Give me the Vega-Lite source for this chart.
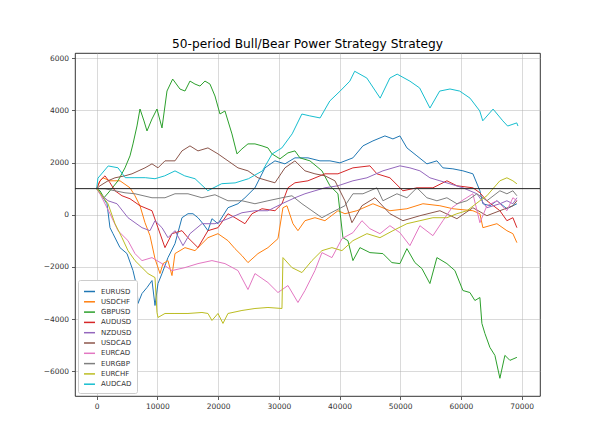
{
  "$schema": "https://vega.github.io/schema/vega-lite/v6.json",
  "width": 465,
  "height": 343,
  "autosize": {"type": "none"},
  "padding": {"left": 75, "top": 53, "right": 60, "bottom": 48},
  "background": "white",
  "title": {"text": "50-period Bull/Bear Power Strategy Strategy", "font": "DejaVu Sans", "fontSize": 12.2, "fontWeight": "normal", "color": "#000", "anchor": "middle", "offset": 3},
  "config": {
    "view": {"stroke": "#000", "strokeWidth": 0.8},
    "axis": {"labelFont": "DejaVu Sans", "labelFontSize": 7.5, "labelColor": "#333", "tickColor": "#333", "tickSize": 3.5, "tickWidth": 0.8, "domain": false, "grid": true, "gridColor": "#b0b0b0", "gridWidth": 0.8, "gridOpacity": 0.6, "title": null, "labelPadding": 3}
  },
  "datasets": {
    "series": [
      {"s":"EURUSD","x":0,"y":1000},{"s":"EURUSD","x":543,"y":841},{"s":"EURUSD","x":1696,"y":421},{"s":"EURUSD","x":2190,"y":-497},{"s":"EURUSD","x":2685,"y":-727},{"s":"EURUSD","x":3838,"y":-1262},{"s":"EURUSD","x":4991,"y":-1491},{"s":"EURUSD","x":5979,"y":-2141},{"s":"EURUSD","x":6637,"y":-2792},{"s":"EURUSD","x":6802,"y":-3403},{"s":"EURUSD","x":7461,"y":-3021},{"s":"EURUSD","x":8284,"y":-2792},{"s":"EURUSD","x":9108,"y":-2524},{"s":"EURUSD","x":9602,"y":-3480},{"s":"EURUSD","x":10096,"y":-2639},{"s":"EURUSD","x":10755,"y":-2256},{"s":"EURUSD","x":11743,"y":-1644},{"s":"EURUSD","x":12896,"y":-1109},{"s":"EURUSD","x":14049,"y":-115},{"s":"EURUSD","x":15037,"y":38},{"s":"EURUSD","x":15860,"y":38},{"s":"EURUSD","x":16684,"y":-115},{"s":"EURUSD","x":17507,"y":-344},{"s":"EURUSD","x":18330,"y":-612},{"s":"EURUSD","x":18989,"y":-153},{"s":"EURUSD","x":19977,"y":-344},{"s":"EURUSD","x":21624,"y":268},{"s":"EURUSD","x":23271,"y":421},{"s":"EURUSD","x":24425,"y":650},{"s":"EURUSD","x":26072,"y":1032},{"s":"EURUSD","x":27719,"y":1797},{"s":"EURUSD","x":29366,"y":2065},{"s":"EURUSD","x":31013,"y":1950},{"s":"EURUSD","x":32660,"y":2180},{"s":"EURUSD","x":34801,"y":2180},{"s":"EURUSD","x":36777,"y":2065},{"s":"EURUSD","x":38424,"y":2065},{"s":"EURUSD","x":40071,"y":1988},{"s":"EURUSD","x":42212,"y":2180},{"s":"EURUSD","x":43859,"y":2639},{"s":"EURUSD","x":45506,"y":2830},{"s":"EURUSD","x":47483,"y":3021},{"s":"EURUSD","x":48801,"y":2906},{"s":"EURUSD","x":49953,"y":3021},{"s":"EURUSD","x":51106,"y":2562},{"s":"EURUSD","x":52753,"y":2256},{"s":"EURUSD","x":54400,"y":1950},{"s":"EURUSD","x":56047,"y":2065},{"s":"EURUSD","x":57035,"y":1797},{"s":"EURUSD","x":58682,"y":1759},{"s":"EURUSD","x":60329,"y":1683},{"s":"EURUSD","x":61976,"y":1568},{"s":"EURUSD","x":63129,"y":918},{"s":"EURUSD","x":63623,"y":421},{"s":"EURUSD","x":64776,"y":344},{"s":"EURUSD","x":65929,"y":535},{"s":"EURUSD","x":67576,"y":229},{"s":"EURUSD","x":68564,"y":344},{"s":"EURUSD","x":69223,"y":421},

      {"s":"USDCHF","x":0,"y":1000},{"s":"USDCHF","x":543,"y":1300},{"s":"USDCHF","x":1038,"y":1415},{"s":"USDCHF","x":2190,"y":1300},{"s":"USDCHF","x":3838,"y":1300},{"s":"USDCHF","x":5485,"y":1032},{"s":"USDCHF","x":6308,"y":727},{"s":"USDCHF","x":7132,"y":344},{"s":"USDCHF","x":7955,"y":-306},{"s":"USDCHF","x":8779,"y":-803},{"s":"USDCHF","x":9602,"y":-1683},{"s":"USDCHF","x":10426,"y":-2256},{"s":"USDCHF","x":10920,"y":-1874},{"s":"USDCHF","x":11743,"y":-1759},{"s":"USDCHF","x":12402,"y":-2333},{"s":"USDCHF","x":12896,"y":-1491},{"s":"USDCHF","x":14543,"y":-1262},{"s":"USDCHF","x":16190,"y":-1377},{"s":"USDCHF","x":18330,"y":-880},{"s":"USDCHF","x":19977,"y":-727},{"s":"USDCHF","x":21624,"y":-994},{"s":"USDCHF","x":22778,"y":-1300},{"s":"USDCHF","x":23931,"y":-1568},{"s":"USDCHF","x":24919,"y":-1836},{"s":"USDCHF","x":26566,"y":-1491},{"s":"USDCHF","x":28213,"y":-1262},{"s":"USDCHF","x":29860,"y":-918},{"s":"USDCHF","x":30683,"y":268},{"s":"USDCHF","x":31342,"y":344},{"s":"USDCHF","x":32330,"y":-344},{"s":"USDCHF","x":33154,"y":-612},{"s":"USDCHF","x":34307,"y":-229},{"s":"USDCHF","x":35954,"y":-115},{"s":"USDCHF","x":37601,"y":-229},{"s":"USDCHF","x":39742,"y":153},{"s":"USDCHF","x":40895,"y":38},{"s":"USDCHF","x":42871,"y":153},{"s":"USDCHF","x":45506,"y":421},{"s":"USDCHF","x":48306,"y":153},{"s":"USDCHF","x":51106,"y":229},{"s":"USDCHF","x":53741,"y":421},{"s":"USDCHF","x":56541,"y":344},{"s":"USDCHF","x":58682,"y":229},{"s":"USDCHF","x":61976,"y":153},{"s":"USDCHF","x":63129,"y":38},{"s":"USDCHF","x":63623,"y":-497},{"s":"USDCHF","x":65929,"y":-344},{"s":"USDCHF","x":67576,"y":-612},{"s":"USDCHF","x":68564,"y":-727},{"s":"USDCHF","x":69223,"y":-1071},

      {"s":"GBPUSD","x":0,"y":994},{"s":"GBPUSD","x":543,"y":918},{"s":"GBPUSD","x":1202,"y":650},{"s":"GBPUSD","x":2190,"y":918},{"s":"GBPUSD","x":3508,"y":1300},{"s":"GBPUSD","x":4661,"y":1797},{"s":"GBPUSD","x":5485,"y":2256},{"s":"GBPUSD","x":5979,"y":2715},{"s":"GBPUSD","x":6637,"y":3403},{"s":"GBPUSD","x":7132,"y":4053},{"s":"GBPUSD","x":7790,"y":3595},{"s":"GBPUSD","x":8284,"y":3212},{"s":"GBPUSD","x":9108,"y":3671},{"s":"GBPUSD","x":9932,"y":4053},{"s":"GBPUSD","x":10755,"y":3327},{"s":"GBPUSD","x":11579,"y":4742},{"s":"GBPUSD","x":12517,"y":5201},{"s":"GBPUSD","x":13720,"y":4818},{"s":"GBPUSD","x":14543,"y":4742},{"s":"GBPUSD","x":15366,"y":5124},{"s":"GBPUSD","x":16190,"y":5009},{"s":"GBPUSD","x":17013,"y":4933},{"s":"GBPUSD","x":17837,"y":5124},{"s":"GBPUSD","x":18660,"y":5009},{"s":"GBPUSD","x":19484,"y":4551},{"s":"GBPUSD","x":20307,"y":3862},{"s":"GBPUSD","x":21131,"y":3977},{"s":"GBPUSD","x":22284,"y":3097},{"s":"GBPUSD","x":23107,"y":2333},{"s":"GBPUSD","x":23931,"y":2524},{"s":"GBPUSD","x":24919,"y":2715},{"s":"GBPUSD","x":26072,"y":2715},{"s":"GBPUSD","x":27225,"y":2639},{"s":"GBPUSD","x":28213,"y":2562},{"s":"GBPUSD","x":28872,"y":2333},{"s":"GBPUSD","x":30189,"y":2141},{"s":"GBPUSD","x":31507,"y":2371},{"s":"GBPUSD","x":32660,"y":2447},{"s":"GBPUSD","x":33483,"y":2180},{"s":"GBPUSD","x":35130,"y":2065},{"s":"GBPUSD","x":37107,"y":1683},{"s":"GBPUSD","x":38424,"y":1109},{"s":"GBPUSD","x":39742,"y":803},{"s":"GBPUSD","x":40565,"y":-880},{"s":"GBPUSD","x":41389,"y":-994},{"s":"GBPUSD","x":42212,"y":-1759},{"s":"GBPUSD","x":43365,"y":-1262},{"s":"GBPUSD","x":45012,"y":-1453},{"s":"GBPUSD","x":47153,"y":-1491},{"s":"GBPUSD","x":48636,"y":-1836},{"s":"GBPUSD","x":49953,"y":-1874},{"s":"GBPUSD","x":51106,"y":-1300},{"s":"GBPUSD","x":52424,"y":-1836},{"s":"GBPUSD","x":53577,"y":-2065},{"s":"GBPUSD","x":54894,"y":-2639},{"s":"GBPUSD","x":56047,"y":-1644},{"s":"GBPUSD","x":57694,"y":-1874},{"s":"GBPUSD","x":59012,"y":-2141},{"s":"GBPUSD","x":60329,"y":-2906},{"s":"GBPUSD","x":61482,"y":-2983},{"s":"GBPUSD","x":62306,"y":-3289},{"s":"GBPUSD","x":63129,"y":-3174},{"s":"GBPUSD","x":63459,"y":-4168},{"s":"GBPUSD","x":63953,"y":-4551},{"s":"GBPUSD","x":64776,"y":-5086},{"s":"GBPUSD","x":65600,"y":-5392},{"s":"GBPUSD","x":66423,"y":-6271},{"s":"GBPUSD","x":67247,"y":-5392},{"s":"GBPUSD","x":68070,"y":-5583},{"s":"GBPUSD","x":69223,"y":-5468},

      {"s":"AUDUSD","x":0,"y":1000},{"s":"AUDUSD","x":543,"y":1300},{"s":"AUDUSD","x":1367,"y":1491},{"s":"AUDUSD","x":2190,"y":1224},{"s":"AUDUSD","x":3014,"y":918},{"s":"AUDUSD","x":4167,"y":727},{"s":"AUDUSD","x":5485,"y":612},{"s":"AUDUSD","x":7132,"y":344},{"s":"AUDUSD","x":9108,"y":153},{"s":"AUDUSD","x":10096,"y":-497},{"s":"AUDUSD","x":11249,"y":-1262},{"s":"AUDUSD","x":12402,"y":-727},{"s":"AUDUSD","x":14049,"y":-612},{"s":"AUDUSD","x":15037,"y":-880},{"s":"AUDUSD","x":16684,"y":-1262},{"s":"AUDUSD","x":18330,"y":-612},{"s":"AUDUSD","x":19977,"y":-497},{"s":"AUDUSD","x":21624,"y":38},{"s":"AUDUSD","x":22778,"y":-115},{"s":"AUDUSD","x":24425,"y":-344},{"s":"AUDUSD","x":25578,"y":38},{"s":"AUDUSD","x":27225,"y":229},{"s":"AUDUSD","x":29366,"y":153},{"s":"AUDUSD","x":30519,"y":421},{"s":"AUDUSD","x":31507,"y":1032},{"s":"AUDUSD","x":32660,"y":1224},{"s":"AUDUSD","x":34801,"y":1300},{"s":"AUDUSD","x":37601,"y":1568},{"s":"AUDUSD","x":39742,"y":1568},{"s":"AUDUSD","x":42212,"y":1797},{"s":"AUDUSD","x":45012,"y":1874},{"s":"AUDUSD","x":46165,"y":1568},{"s":"AUDUSD","x":48306,"y":1415},{"s":"AUDUSD","x":50447,"y":918},{"s":"AUDUSD","x":52753,"y":1032},{"s":"AUDUSD","x":55388,"y":1032},{"s":"AUDUSD","x":57694,"y":1300},{"s":"AUDUSD","x":59341,"y":1109},{"s":"AUDUSD","x":61976,"y":1032},{"s":"AUDUSD","x":63129,"y":841},{"s":"AUDUSD","x":64282,"y":535},{"s":"AUDUSD","x":66423,"y":153},{"s":"AUDUSD","x":67576,"y":-229},{"s":"AUDUSD","x":68564,"y":-115},{"s":"AUDUSD","x":69223,"y":-497},

      {"s":"NZDUSD","x":0,"y":1000},{"s":"NZDUSD","x":543,"y":803},{"s":"NZDUSD","x":1861,"y":535},{"s":"NZDUSD","x":3343,"y":421},{"s":"NZDUSD","x":5155,"y":-115},{"s":"NZDUSD","x":7461,"y":-497},{"s":"NZDUSD","x":8779,"y":-612},{"s":"NZDUSD","x":9602,"y":-229},{"s":"NZDUSD","x":10755,"y":-497},{"s":"NZDUSD","x":11743,"y":-880},{"s":"NZDUSD","x":12896,"y":-612},{"s":"NZDUSD","x":14214,"y":-1185},{"s":"NZDUSD","x":15366,"y":-727},{"s":"NZDUSD","x":17342,"y":-344},{"s":"NZDUSD","x":19484,"y":-344},{"s":"NZDUSD","x":21624,"y":-153},{"s":"NZDUSD","x":23931,"y":76},{"s":"NZDUSD","x":26072,"y":153},{"s":"NZDUSD","x":28213,"y":153},{"s":"NZDUSD","x":30519,"y":421},{"s":"NZDUSD","x":32660,"y":650},{"s":"NZDUSD","x":34307,"y":803},{"s":"NZDUSD","x":35954,"y":918},{"s":"NZDUSD","x":37601,"y":1032},{"s":"NZDUSD","x":39742,"y":1109},{"s":"NZDUSD","x":42212,"y":1300},{"s":"NZDUSD","x":44518,"y":1415},{"s":"NZDUSD","x":47153,"y":1683},{"s":"NZDUSD","x":49953,"y":1874},{"s":"NZDUSD","x":51600,"y":1797},{"s":"NZDUSD","x":53247,"y":1683},{"s":"NZDUSD","x":54894,"y":1415},{"s":"NZDUSD","x":56541,"y":1300},{"s":"NZDUSD","x":58188,"y":1185},{"s":"NZDUSD","x":60329,"y":1032},{"s":"NZDUSD","x":62635,"y":803},{"s":"NZDUSD","x":64282,"y":268},{"s":"NZDUSD","x":66423,"y":421},{"s":"NZDUSD","x":67576,"y":535},{"s":"NZDUSD","x":68564,"y":421},{"s":"NZDUSD","x":69223,"y":650},

      {"s":"USDCAD","x":0,"y":1000},{"s":"USDCAD","x":543,"y":1109},{"s":"USDCAD","x":1861,"y":1300},{"s":"USDCAD","x":3014,"y":1415},{"s":"USDCAD","x":4661,"y":1491},{"s":"USDCAD","x":5815,"y":1568},{"s":"USDCAD","x":7955,"y":1797},{"s":"USDCAD","x":9108,"y":1950},{"s":"USDCAD","x":10096,"y":1797},{"s":"USDCAD","x":11249,"y":2065},{"s":"USDCAD","x":12896,"y":2065},{"s":"USDCAD","x":14049,"y":2447},{"s":"USDCAD","x":15366,"y":2639},{"s":"USDCAD","x":16684,"y":2447},{"s":"USDCAD","x":18330,"y":2562},{"s":"USDCAD","x":19977,"y":2333},{"s":"USDCAD","x":21624,"y":2065},{"s":"USDCAD","x":23271,"y":1797},{"s":"USDCAD","x":24919,"y":1683},{"s":"USDCAD","x":26566,"y":1415},{"s":"USDCAD","x":28213,"y":1300},{"s":"USDCAD","x":29366,"y":1224},{"s":"USDCAD","x":31013,"y":1797},{"s":"USDCAD","x":32660,"y":2065},{"s":"USDCAD","x":34307,"y":1683},{"s":"USDCAD","x":35954,"y":1568},{"s":"USDCAD","x":37601,"y":1491},{"s":"USDCAD","x":39248,"y":1300},{"s":"USDCAD","x":40895,"y":535},{"s":"USDCAD","x":42047,"y":-306},{"s":"USDCAD","x":43694,"y":344},{"s":"USDCAD","x":45836,"y":650},{"s":"USDCAD","x":48306,"y":38},{"s":"USDCAD","x":50447,"y":-229},{"s":"USDCAD","x":53247,"y":-38},{"s":"USDCAD","x":56541,"y":153},{"s":"USDCAD","x":59341,"y":-153},{"s":"USDCAD","x":61976,"y":268},{"s":"USDCAD","x":64282,"y":-38},{"s":"USDCAD","x":66423,"y":153},{"s":"USDCAD","x":68564,"y":344},{"s":"USDCAD","x":69223,"y":535},

      {"s":"EURCAD","x":0,"y":1000},{"s":"EURCAD","x":543,"y":803},{"s":"EURCAD","x":2190,"y":38},{"s":"EURCAD","x":3508,"y":-612},{"s":"EURCAD","x":5155,"y":-994},{"s":"EURCAD","x":6308,"y":-1491},{"s":"EURCAD","x":7461,"y":-1759},{"s":"EURCAD","x":9108,"y":-1644},{"s":"EURCAD","x":10755,"y":-1874},{"s":"EURCAD","x":12402,"y":-2141},{"s":"EURCAD","x":14543,"y":-2027},{"s":"EURCAD","x":16684,"y":-1874},{"s":"EURCAD","x":18989,"y":-1759},{"s":"EURCAD","x":21131,"y":-1874},{"s":"EURCAD","x":23271,"y":-2141},{"s":"EURCAD","x":24919,"y":-2868},{"s":"EURCAD","x":26072,"y":-2256},{"s":"EURCAD","x":28213,"y":-2600},{"s":"EURCAD","x":29860,"y":-2983},{"s":"EURCAD","x":31507,"y":-2715},{"s":"EURCAD","x":33154,"y":-3365},{"s":"EURCAD","x":34307,"y":-2906},{"s":"EURCAD","x":35954,"y":-2141},{"s":"EURCAD","x":37107,"y":-1453},{"s":"EURCAD","x":38754,"y":-1644},{"s":"EURCAD","x":40401,"y":-918},{"s":"EURCAD","x":42212,"y":-688},{"s":"EURCAD","x":43694,"y":-229},{"s":"EURCAD","x":45012,"y":-535},{"s":"EURCAD","x":46659,"y":-727},{"s":"EURCAD","x":48306,"y":-421},{"s":"EURCAD","x":49953,"y":-688},{"s":"EURCAD","x":51600,"y":-1185},{"s":"EURCAD","x":53247,"y":-421},{"s":"EURCAD","x":55388,"y":-803},{"s":"EURCAD","x":57035,"y":-229},{"s":"EURCAD","x":58517,"y":268},{"s":"EURCAD","x":60164,"y":535},{"s":"EURCAD","x":61976,"y":803},{"s":"EURCAD","x":63129,"y":-306},{"s":"EURCAD","x":64282,"y":344},{"s":"EURCAD","x":65929,"y":535},{"s":"EURCAD","x":67576,"y":153},{"s":"EURCAD","x":68564,"y":650},{"s":"EURCAD","x":69223,"y":535},

      {"s":"EURGBP","x":0,"y":1000},{"s":"EURGBP","x":1367,"y":994},{"s":"EURGBP","x":3014,"y":918},{"s":"EURGBP","x":4661,"y":841},{"s":"EURGBP","x":6308,"y":803},{"s":"EURGBP","x":9108,"y":650},{"s":"EURGBP","x":11249,"y":650},{"s":"EURGBP","x":12896,"y":803},{"s":"EURGBP","x":15037,"y":803},{"s":"EURGBP","x":17342,"y":650},{"s":"EURGBP","x":19484,"y":765},{"s":"EURGBP","x":21624,"y":535},{"s":"EURGBP","x":23931,"y":535},{"s":"EURGBP","x":26072,"y":421},{"s":"EURGBP","x":28213,"y":535},{"s":"EURGBP","x":30519,"y":650},{"s":"EURGBP","x":32166,"y":727},{"s":"EURGBP","x":33813,"y":421},{"s":"EURGBP","x":35460,"y":153},{"s":"EURGBP","x":37107,"y":-115},{"s":"EURGBP","x":39248,"y":153},{"s":"EURGBP","x":40895,"y":344},{"s":"EURGBP","x":42212,"y":803},{"s":"EURGBP","x":43859,"y":803},{"s":"EURGBP","x":46165,"y":1032},{"s":"EURGBP","x":47153,"y":535},{"s":"EURGBP","x":49459,"y":803},{"s":"EURGBP","x":51106,"y":650},{"s":"EURGBP","x":52753,"y":1032},{"s":"EURGBP","x":54400,"y":650},{"s":"EURGBP","x":56047,"y":535},{"s":"EURGBP","x":57694,"y":650},{"s":"EURGBP","x":59341,"y":421},{"s":"EURGBP","x":60988,"y":535},{"s":"EURGBP","x":62635,"y":803},{"s":"EURGBP","x":64282,"y":535},{"s":"EURGBP","x":66423,"y":918},{"s":"EURGBP","x":67576,"y":803},{"s":"EURGBP","x":68564,"y":918},{"s":"EURGBP","x":69223,"y":727},

      {"s":"EURCHF","x":0,"y":1000},{"s":"EURCHF","x":543,"y":841},{"s":"EURCHF","x":1861,"y":421},{"s":"EURCHF","x":3014,"y":-344},{"s":"EURCHF","x":4167,"y":-880},{"s":"EURCHF","x":5155,"y":-1377},{"s":"EURCHF","x":6308,"y":-1759},{"s":"EURCHF","x":7461,"y":-2027},{"s":"EURCHF","x":8449,"y":-2256},{"s":"EURCHF","x":9602,"y":-2409},{"s":"EURCHF","x":9932,"y":-3748},{"s":"EURCHF","x":10096,"y":-3939},{"s":"EURCHF","x":11249,"y":-3786},{"s":"EURCHF","x":12896,"y":-3786},{"s":"EURCHF","x":15037,"y":-3786},{"s":"EURCHF","x":17342,"y":-3748},{"s":"EURCHF","x":18330,"y":-3786},{"s":"EURCHF","x":18989,"y":-4054},{"s":"EURCHF","x":19977,"y":-3786},{"s":"EURCHF","x":20801,"y":-4168},{"s":"EURCHF","x":21624,"y":-3786},{"s":"EURCHF","x":23931,"y":-3671},{"s":"EURCHF","x":26072,"y":-3595},{"s":"EURCHF","x":28213,"y":-3556},{"s":"EURCHF","x":30519,"y":-3595},{"s":"EURCHF","x":30683,"y":-1644},{"s":"EURCHF","x":32166,"y":-2027},{"s":"EURCHF","x":33813,"y":-2218},{"s":"EURCHF","x":35460,"y":-1759},{"s":"EURCHF","x":37107,"y":-1377},{"s":"EURCHF","x":38754,"y":-1262},{"s":"EURCHF","x":40401,"y":-1377},{"s":"EURCHF","x":42212,"y":-994},{"s":"EURCHF","x":44518,"y":-727},{"s":"EURCHF","x":46659,"y":-880},{"s":"EURCHF","x":48801,"y":-612},{"s":"EURCHF","x":51106,"y":-344},{"s":"EURCHF","x":53247,"y":-229},{"s":"EURCHF","x":55388,"y":-115},{"s":"EURCHF","x":57694,"y":-115},{"s":"EURCHF","x":59341,"y":38},{"s":"EURCHF","x":60988,"y":153},{"s":"EURCHF","x":63129,"y":535},{"s":"EURCHF","x":64282,"y":727},{"s":"EURCHF","x":65270,"y":994},{"s":"EURCHF","x":66423,"y":1300},{"s":"EURCHF","x":67576,"y":1415},{"s":"EURCHF","x":68564,"y":1300},{"s":"EURCHF","x":69223,"y":1185},

      {"s":"AUDCAD","x":0,"y":1000},{"s":"AUDCAD","x":200,"y":1400},{"s":"AUDCAD","x":1900,"y":1870},{"s":"AUDCAD","x":3500,"y":1800},{"s":"AUDCAD","x":4700,"y":1420},{"s":"AUDCAD","x":6300,"y":1420},{"s":"AUDCAD","x":8000,"y":1420},{"s":"AUDCAD","x":9600,"y":1380},{"s":"AUDCAD","x":11200,"y":1490},{"s":"AUDCAD","x":12900,"y":1680},{"s":"AUDCAD","x":14500,"y":1490},{"s":"AUDCAD","x":16200,"y":1380},{"s":"AUDCAD","x":18300,"y":920},{"s":"AUDCAD","x":20600,"y":1190},{"s":"AUDCAD","x":22800,"y":1220},{"s":"AUDCAD","x":25000,"y":1380},{"s":"AUDCAD","x":27300,"y":1680},{"s":"AUDCAD","x":28900,"y":2330},{"s":"AUDCAD","x":30500,"y":2560},{"s":"AUDCAD","x":32200,"y":3100},{"s":"AUDCAD","x":33800,"y":3860},{"s":"AUDCAD","x":35100,"y":3790},{"s":"AUDCAD","x":36800,"y":3710},{"s":"AUDCAD","x":38400,"y":4360},{"s":"AUDCAD","x":40100,"y":4740},{"s":"AUDCAD","x":41700,"y":5120},{"s":"AUDCAD","x":42500,"y":5500},{"s":"AUDCAD","x":44500,"y":5240},{"s":"AUDCAD","x":46700,"y":4470},{"s":"AUDCAD","x":48300,"y":5240},{"s":"AUDCAD","x":49500,"y":5390},{"s":"AUDCAD","x":51600,"y":5120},{"s":"AUDCAD","x":53200,"y":4860},{"s":"AUDCAD","x":54900,"y":4090},{"s":"AUDCAD","x":56500,"y":4740},{"s":"AUDCAD","x":58200,"y":4820},{"s":"AUDCAD","x":59800,"y":4740},{"s":"AUDCAD","x":61500,"y":4470},{"s":"AUDCAD","x":63100,"y":3980},{"s":"AUDCAD","x":63600,"y":3600},{"s":"AUDCAD","x":65300,"y":4050},{"s":"AUDCAD","x":66900,"y":3600},{"s":"AUDCAD","x":67700,"y":3400},{"s":"AUDCAD","x":69200,"y":3520},{"s":"AUDCAD","x":69400,"y":3400}
    ],
    "ref": [{"y": 1000}]
  },
  "layer": [
    {
      "data": {"name": "series"},
      "mark": {"type": "line", "strokeWidth": 1, "clip": true},
      "encoding": {
        "x": {"field": "x", "type": "quantitative", "scale": {"domain": [-3575, 73030], "nice": false, "zero": false}, "axis": {"values": [0, 10000, 20000, 30000, 40000, 50000, 60000, 70000], "format": "d"}},
        "y": {"field": "y", "type": "quantitative", "scale": {"domain": [-6950, 6200], "nice": false, "zero": false}, "axis": {"values": [-6000, -4000, -2000, 0, 2000, 4000, 6000], "format": "d"}},
        "color": {"field": "s", "type": "nominal",
          "scale": {"domain": ["EURUSD","USDCHF","GBPUSD","AUDUSD","NZDUSD","USDCAD","EURCAD","EURGBP","EURCHF","AUDCAD"], "range": ["#1f77b4","#ff7f0e","#2ca02c","#d62728","#9467bd","#8c564b","#e377c2","#7f7f7f","#bcbd22","#17becf"]},
          "legend": {"title": null, "orient": "bottom-left", "offset": 3, "fillColor": "white", "strokeColor": "#ccc", "cornerRadius": 2, "padding": 5, "symbolType": "stroke", "symbolSize": 120, "symbolStrokeWidth": 1.5, "labelFont": "DejaVu Sans", "labelFontSize": 7, "labelColor": "#333", "rowPadding": 0.3, "labelOffset": 5}
        },
        "order": {"field": "x", "type": "quantitative"}
      }
    },
    {
      "data": {"name": "ref"},
      "mark": {"type": "rule", "color": "#222", "strokeWidth": 1},
      "encoding": {"y": {"field": "y", "type": "quantitative"}}
    }
  ]
}
